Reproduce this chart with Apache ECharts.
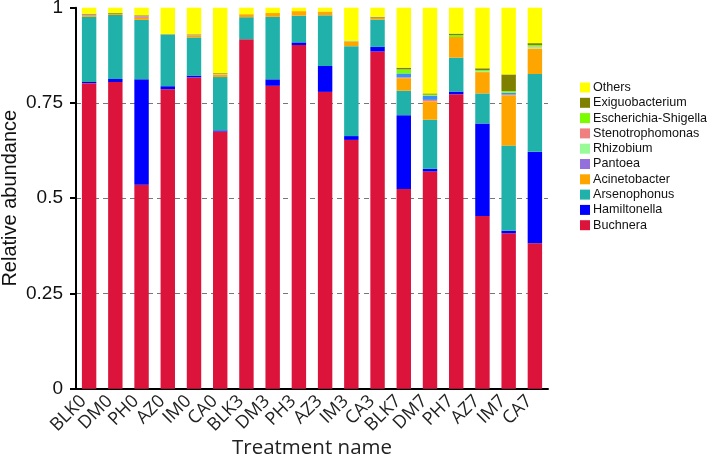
<!DOCTYPE html>
<html>
<head>
<meta charset="utf-8">
<script src="https://cdn.jsdelivr.net/npm/echarts@6/dist/echarts.min.js"></script>
<style>html,body{margin:0;padding:0;background:#fff;}#c{width:709px;height:460px;}</style>
</head>
<body>
<div id="c"></div>
<script>
var categories = ['BLK0','DM0','PH0','AZ0','IM0','CA0','BLK3','DM3','PH3','AZ3','IM3','CA3','BLK7','DM7','PH7','AZ7','IM7','CA7'];
var yTicks = [0, 0.25, 0.5, 0.75, 1];

var buchnera       = [0.802,0.805,0.535,0.786,0.817,0.675,0.917,0.795,0.902,0.779,0.653,0.885,0.524,0.570,0.773,0.453,0.408,0.382];
var hamiltonella   = [0.003,0.008,0.277,0.008,0.005,0.003,0.000,0.017,0.007,0.068,0.010,0.012,0.194,0.007,0.007,0.243,0.007,0.240];
var arsenophonus   = [0.171,0.168,0.156,0.136,0.100,0.140,0.058,0.164,0.070,0.133,0.236,0.072,0.064,0.129,0.089,0.079,0.223,0.204];
var acinetobacter  = [0.004,0.003,0.006,0.001,0.005,0.006,0.008,0.010,0.012,0.010,0.013,0.004,0.033,0.048,0.054,0.056,0.132,0.067];
var pantoea        = [0.001,0,0.002,0,0,0,0,0,0,0,0,0,0,0,0,0,0,0];
var rhizobium      = [0,0,0,0,0,0.001,0,0,0,0,0.001,0,0,0,0,0.003,0,0.003];
var stenotrophomonas = [0.001,0,0.002,0,0.001,0.001,0,0,0,0,0,0.001,0.002,0.004,0,0,0.002,0.002];
var unlistedTaxon  = [0,0,0,0,0,0,0,0,0,0,0,0,0.0105,0.011,0,0,0.005,0];
var escherichia    = [0,0,0,0,0,0,0,0,0,0,0.001,0,0.0105,0.003,0.005,0.002,0.004,0.004];
var exiguobacterium = [0.002,0.002,0.002,0,0.002,0.002,0,0,0,0,0,0.002,0.0045,0.003,0.004,0.005,0.044,0.005];
var others         = [0.016,0.014,0.020,0.069,0.070,0.172,0.017,0.014,0.009,0.010,0.086,0.024,0.1575,0.225,0.068,0.159,0.175,0.093];

var legendNames = ['Others','Exiguobacterium','Escherichia-Shigella','Stenotrophomonas','Rhizobium','Pantoea','Acinetobacter','Arsenophonus','Hamiltonella','Buchnera'];
var seriesNames = ['Buchnera','Hamiltonella','Arsenophonus','Acinetobacter','Pantoea','Rhizobium','Stenotrophomonas','Unlisted taxon','Escherichia-Shigella','Exiguobacterium','Others'];
var seriesData = [buchnera,hamiltonella,arsenophonus,acinetobacter,pantoea,rhizobium,stenotrophomonas,unlistedTaxon,escherichia,exiguobacterium,others];
var seriesColors = ['#DC143C','#0000FF','#20B2AA','#FFA500','#9370DB','#98FB98','#F08080','#3D8EF2','#7CFC00','#808000','#FFFF00'];

var chart = echarts.init(document.getElementById('c'), null, {renderer:'canvas'});
var series = seriesNames.map(function(n,i){
  return {name:n,type:'bar',stack:'t',data:seriesData[i],barCategoryGap:'45%',
    itemStyle:{color:seriesColors[i]}};
});
chart.setOption({
  animation:false,
  backgroundColor:'#fff',
  grid:{left:76,right:161,top:7.7,bottom:71.3,containLabel:false,outerBoundsMode:'none'},
  legend:{
    orient:'vertical',left:575,top:76,itemWidth:10,itemHeight:10,itemGap:2.3,icon:'rect',
    data:legendNames,
    textStyle:{fontFamily:'Liberation Sans',fontSize:12.6,lineHeight:12,color:'#111',padding:[0,0,0,-2]}
  },
  xAxis:{
    type:'category',data:categories,
    name:'Treatment name',nameLocation:'middle',nameGap:49,nameMoveOverlap:false,
    nameTextStyle:{fontFamily:'Open Sans',fontSize:20.5,color:'#222'},
    axisLine:{lineStyle:{color:'#000',width:2}},
    axisTick:{length:5,lineStyle:{color:'#000',width:2}},
    axisLabel:{rotate:45,fontFamily:'Open Sans',fontSize:18,color:'#222',margin:4,padding:[0,8,0,0],interval:0}
  },
  yAxis:{
    type:'value',min:yTicks[0],max:yTicks[yTicks.length-1],interval:0.25,
    name:'Relative abundance',nameLocation:'middle',nameGap:56,nameRotate:90,nameMoveOverlap:false,
    nameTextStyle:{fontFamily:'Liberation Sans',fontSize:20,color:'#111'},
    axisLine:{show:true,lineStyle:{color:'#000',width:2}},
    axisTick:{show:true,length:6,lineStyle:{color:'#000',width:2}},
    axisLabel:{fontFamily:'Liberation Sans',fontSize:19,color:'#111',margin:13},
    splitLine:{show:true,lineStyle:{color:['transparent','#777','#777','#777','transparent'],type:[5,4],width:1}}
  },
  series:series
});
</script>
</body>
</html>
